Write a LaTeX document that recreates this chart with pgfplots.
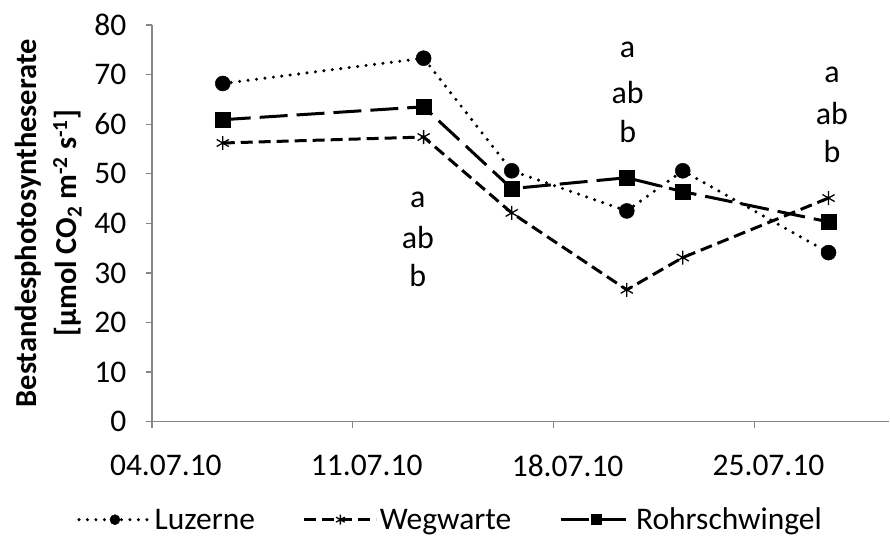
\documentclass[border=0pt]{standalone}
\usepackage{pgfplots}
\pgfplotsset{compat=1.18}
\usepackage{fontspec}
\setmainfont{Carlito}
\definecolor{axgray}{HTML}{868686}
\begin{document}
\begin{tikzpicture}
\begin{axis}[
  scale only axis,
  width=738pt, height=397pt,
  xmin=0, xmax=25.7, ymin=0, ymax=80,
  axis lines=left,
  axis line style={draw=axgray, line width=1.3pt, -},
  tick style={draw=axgray, line width=1.3pt},
  tick align=outside,
  major tick length=6pt,
  xtick={0,7,14,21},
  xticklabels={04.07.10,11.07.10,18.07.10,25.07.10},
  ytick={0,10,...,80},
  /pgf/number format/assume math mode=true,
  tick label style={font=\fontsize{31.5}{36}\selectfont},
  xticklabel style={yshift=-24pt, xshift=14pt},
  yticklabel style={xshift=-16pt},
  ylabel={Bestandesphotosyntheserate\\{}[µmol CO\textsubscript{2} m\textsuperscript{-2} s\textsuperscript{-1}]},
  ylabel style={align=center, font=\fontsize{30.5}{40}\selectfont\bfseries, yshift=6pt},
  legend columns=3,
  legend style={at={(0.405,-0.247)}, anchor=center, draw=none, font=\fontsize{31.5}{36}\selectfont,
     /tikz/every even column/.append style={column sep=46pt}},
  legend image code/.code={\draw[mark repeat=2,mark phase=2,#1, mark size=5pt] plot coordinates {(0pt,0pt) (36pt,0pt) (72pt,0pt)};},
  clip=false,
]
\addplot[black, line width=3.4pt, dash pattern=on 0pt off 8.5pt, line cap=round, mark=*, mark size=7.5pt, mark options={solid, fill=black, line width=0.5pt}]
  coordinates {(2.47,68.2) (9.47,73.3) (12.54,50.6) (16.55,42.5) (18.5,50.6) (23.58,34.1)};
\addlegendentry{Luzerne}
\addplot[black, line width=3pt, dash pattern=on 12pt off 6pt, mark=asterisk, mark size=7pt, mark options={solid, line width=1.3pt}]
  coordinates {(2.47,56.2) (9.47,57.4) (12.54,42.1) (16.55,26.6) (18.5,33.1) (23.58,45.1)};
\addlegendentry{Wegwarte}
\addplot[black, line width=3pt, dash pattern=on 28pt off 9pt, mark=square*, mark size=7.5pt, mark options={solid, fill=black, line width=0.5pt}]
  coordinates {(2.47,60.9) (9.47,63.5) (12.54,47.0) (16.55,49.2) (18.5,46.4) (23.58,40.3)};
\addlegendentry{Rohrschwingel}
\begin{scope}[every node/.style={font=\fontsize{32}{36}\selectfont}]
\node at (axis cs:9.27,44.8) {a};
\node at (axis cs:9.27,37.1) {ab};
\node at (axis cs:9.27,29.4) {b};
\node at (axis cs:16.58,75.0) {a};
\node at (axis cs:16.58,66.3) {ab};
\node at (axis cs:16.58,58.5) {b};
\node at (axis cs:23.7,70.0) {a};
\node at (axis cs:23.7,62.1) {ab};
\node at (axis cs:23.7,54.4) {b};
\end{scope}
\end{axis}
\path[use as bounding box] (current axis.south west) ++(-152pt,-118pt) rectangle ++(890pt,540pt);
\end{tikzpicture}
\end{document}
